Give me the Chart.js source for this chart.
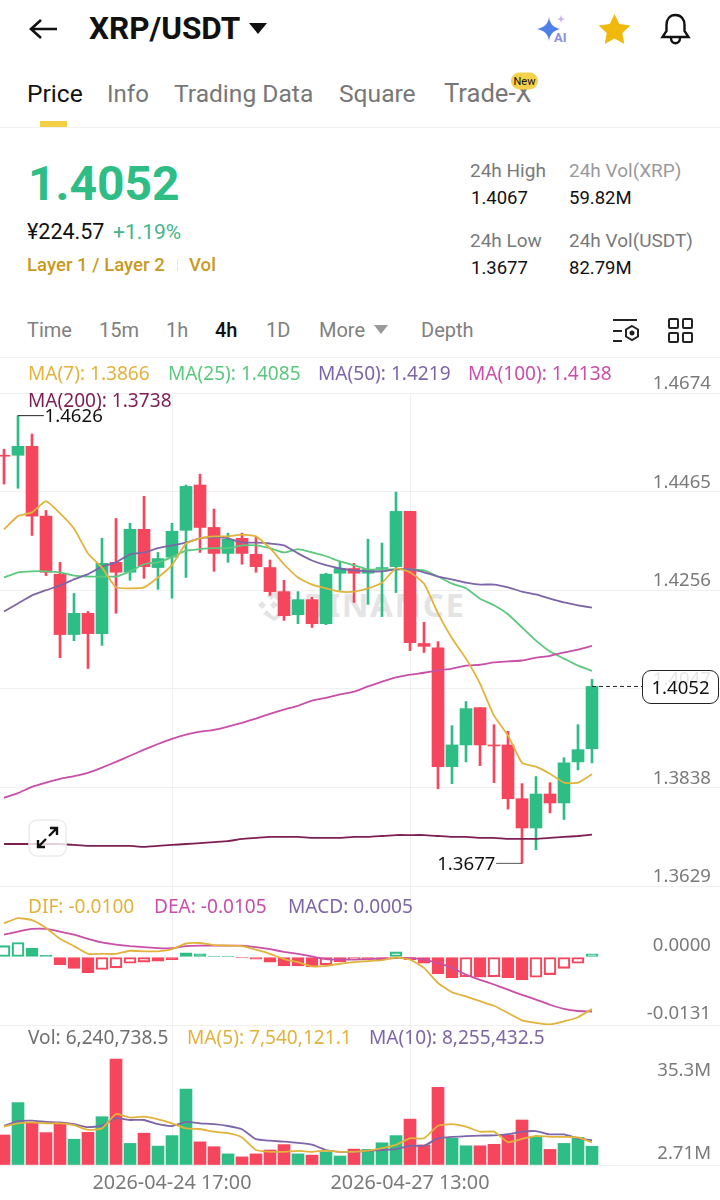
<!DOCTYPE html>
<html>
<head>
<meta charset="utf-8">
<title>XRP/USDT</title>
<script src="https://cdn.jsdelivr.net/npm/chart.js@4"></script>
<style>
  html, body { margin: 0; padding: 0; background: #fff; }
  #page { position: relative; width: 720px; height: 1200px; overflow: hidden; font-family: Roboto, sans-serif; color: #111; }
  .t { position: absolute; transform: translateY(-50%); white-space: nowrap; line-height: 1; }
  .grey { color: #7a7a7a; }
  .pale { color: #9a9a9a; }
  .tab { font-size: 24.6px; color: #777; top: 94px; }
  .stat { font-size: 19px; }
  .num { font-size: 18.5px; }
  .interval { font-size: 20px; top: 330px; color: #808080; }
  .leg { font-family: "Noto Sans", sans-serif; font-size: 19.1px; }
  .rule { position: absolute; left: 0; width: 720px; height: 1px; background: #f1f1f1; }
  canvas { position: absolute; left: 0; }
  svg { position: absolute; }
  #wm { position: absolute; left: 304px; top: 604px; transform: translateY(-50%); font: 700 33px/1 "Noto Sans", sans-serif; letter-spacing: 1.5px; color: #e4e4e4; }
  #tag { position: absolute; left: 642px; top: 670px; width: 75px; height: 32px; border: 1px solid #222; border-radius: 9px; background: rgba(255,255,255,.82); font: 18.6px/32px "Noto Sans", sans-serif; text-align: center; color: #111; }
</style>
</head>
<body>
<div id="page">
  <svg style="left:28px;top:17px" width="32" height="24" viewBox="0 0 32 24" fill="none" stroke="#111" stroke-width="2.6"><path d="M29 12H4M13 3l-10 9 10 9"/></svg>
  <div class="t" style="left:89px;top:29px;font-size:31.5px;font-weight:700">XRP/USDT</div>
  <svg style="left:249px;top:23px" width="18" height="11"><path d="M0 0h18l-9 11z" fill="#111"/></svg>
  <svg style="left:536px;top:14px" width="36" height="30" viewBox="0 0 36 30"><path d="M13 3c1 7 4 10 11 12-7 2-10 5-11 12-1-7-4-10-12-12 8-2 11-5 12-12z" fill="#4f7fe8"/><path d="M25 1l1 3 3 1-3 1-1 3-1-3-3-1 3-1z" fill="#c9b3ec"/><text x="18" y="28" font-family="Roboto" font-weight="700" font-size="13" fill="#8a8fe0">AI</text></svg>
  <svg style="left:598px;top:13px" width="33" height="32" viewBox="0 0 33 32"><path d="M16.5 1l4.8 10 11 1.4-8 7.6 2 11-9.800-5.400L6.700 31l2-11-8-7.600 11-1.400z" fill="#f0b90b"/></svg>
  <svg style="left:659px;top:13px" width="33" height="33" viewBox="0 0 33 33" fill="none" stroke="#111" stroke-width="2.400"><path d="M16.500 2c-6 0-9 4.500-9 10v6l-4 6h26l-4-6v-6c0-5.500-3-10-9-10z"/><path d="M12 25c0 7 9 7 9 0"/></svg>

  <div class="t tab" style="left:27px;color:#111">Price</div>
  <div class="t tab" style="left:107px;font-size:24px">Info</div>
  <div class="t tab" style="left:174px">Trading Data</div>
  <div class="t tab" style="left:339px">Square</div>
  <div class="t tab" style="left:444px;font-size:25.6px">Trade-X</div>
  <div class="t" style="left:511px;top:81px;width:27px;height:17px;border-radius:9px;background:#f5d04a;font-size:11px;line-height:17px;text-align:center">New</div>
  <div style="position:absolute;left:40px;top:121px;width:27px;height:6px;background:#f3cf45"></div>
  <div class="rule" style="top:127px"></div>

  <div class="t" style="left:28px;top:184px;font-size:48px;font-weight:700;color:#2ebd85">1.4052</div>
  <div class="t" style="left:27px;top:232px;font-size:21.5px">¥224.57</div>
  <div class="t" style="left:113px;top:232px;font-size:21px;color:#45b58c">+1.19%</div>
  <div class="t" style="left:27px;top:265px;font-size:18.6px;font-weight:500;color:#c99a1e">Layer 1 / Layer 2</div>
  <div style="position:absolute;left:177px;top:259px;width:1px;height:12px;background:#e5e5e5"></div>
  <div class="t" style="left:189px;top:265px;font-size:18.6px;font-weight:500;color:#c99a1e">Vol</div>

  <div class="t stat grey" style="left:470px;top:170px">24h High</div>
  <div class="t stat pale" style="left:569px;top:170px">24h Vol(XRP)</div>
  <div class="t num" style="left:471px;top:198px">1.4067</div>
  <div class="t num" style="left:569px;top:198px">59.82M</div>
  <div class="t stat grey" style="left:470px;top:240px">24h Low</div>
  <div class="t stat grey" style="left:569px;top:240px">24h Vol(USDT)</div>
  <div class="t num" style="left:471px;top:268px">1.3677</div>
  <div class="t num" style="left:569px;top:268px">82.79M</div>

  <div class="t interval" style="left:27px">Time</div>
  <div class="t interval" style="left:99px">15m</div>
  <div class="t interval" style="left:166px">1h</div>
  <div class="t interval" style="left:215px;color:#111;font-weight:500">4h</div>
  <div class="t interval" style="left:266px">1D</div>
  <div class="t interval" style="left:319px">More</div>
  <svg style="left:374px;top:325px" width="14" height="9"><path d="M0 0h14l-7 9z" fill="#999"/></svg>
  <div class="t interval" style="left:421px">Depth</div>
  <svg style="left:612px;top:318px" width="28" height="26" viewBox="0 0 28 26" fill="none" stroke="#222" stroke-width="2"><path d="M1 2h24M1 13h9M1 23h9"/><path d="M20 8l6 3.500v7L20 22l-6-3.500v-7z"/><circle cx="20" cy="15" r="1.500" fill="#222"/></svg>
  <svg style="left:668px;top:318px" width="25" height="25" fill="none" stroke="#222" stroke-width="2"><rect x="1" y="1" width="9" height="9" rx="1"/><rect x="15" y="1" width="9" height="9" rx="1"/><rect x="1" y="15" width="9" height="9" rx="1"/><rect x="15" y="15" width="9" height="9" rx="1"/></svg>
  <div class="rule" style="top:357px"></div>

  <svg style="left:256px;top:589px" width="36" height="32" viewBox="0 0 36 32" fill="#e4e4e4"><path d="M18 0l7 7-4 4-3-3-3 3-4-4zM6 12l4 4-4 4-4-4zM30 12l4 4-4 4-4-4zM18 12l4 4-4 4-4-4zM11 21l4 4 3 3 3-3 4-4 4 4-11 7-11-7z"/></svg>
  <div id="wm">BINANCE</div>

  <canvas id="price-chart" width="720" height="517" style="top:370px"></canvas>
  <canvas id="macd-chart" width="720" height="141" style="top:885px"></canvas>
  <canvas id="volume-chart" width="720" height="176" style="top:1024px"></canvas>

  <div class="t leg" style="left:28px;top:374px;color:#e2b33c">MA(7): 1.3866</div>
  <div class="t leg" style="left:168px;top:374px;color:#5cc97e">MA(25): 1.4085</div>
  <div class="t leg" style="left:318px;top:374px;color:#7d66a8">MA(50): 1.4219</div>
  <div class="t leg" style="left:468px;top:374px;color:#c94fa8">MA(100): 1.4138</div>
  <div class="t leg" style="left:28px;top:401px;color:#7d1f55">MA(200): 1.3738</div>

  <div class="t leg" style="left:28px;top:907px;color:#e2b33c">DIF: -0.0100</div>
  <div class="t leg" style="left:154px;top:907px;color:#c94fa8">DEA: -0.0105</div>
  <div class="t leg" style="left:288px;top:907px;color:#7d66a8">MACD: 0.0005</div>

  <div class="t leg" style="left:28px;top:1038px;color:#707070">Vol: 6,240,738.5</div>
  <div class="t leg" style="left:187px;top:1038px;color:#e2b33c">MA(5): 7,540,121.1</div>
  <div class="t leg" style="left:369px;top:1038px;color:#7d66a8">MA(10): 8,255,432.5</div>

  <div id="tag">1.4052</div>
  <svg style="left:28px;top:819px" width="39" height="38" viewBox="0 0 39 38" fill="rgba(255,255,255,.8)" stroke="#111" stroke-width="2.400"><rect x="1" y="1" width="37" height="36" rx="8" stroke="#ececec" stroke-width="1.500"/><path d="M10 28l8-8M10 21v7h7M29 9l-8 8M22 9h7v7" fill="none"/></svg>
</div>

<script>
// 4h candles, oldest first. x axis is the candle index.
const times = [
  '2026-04-22 17:00', '2026-04-22 21:00', '2026-04-23 01:00', '2026-04-23 05:00', '2026-04-23 09:00', '2026-04-23 13:00',
  '2026-04-23 17:00', '2026-04-23 21:00', '2026-04-24 01:00', '2026-04-24 05:00', '2026-04-24 09:00', '2026-04-24 13:00',
  '2026-04-24 17:00', '2026-04-24 21:00', '2026-04-25 01:00', '2026-04-25 05:00', '2026-04-25 09:00', '2026-04-25 13:00',
  '2026-04-25 17:00', '2026-04-25 21:00', '2026-04-26 01:00', '2026-04-26 05:00', '2026-04-26 09:00', '2026-04-26 13:00',
  '2026-04-26 17:00', '2026-04-26 21:00', '2026-04-27 01:00', '2026-04-27 05:00', '2026-04-27 09:00', '2026-04-27 13:00',
  '2026-04-27 17:00', '2026-04-27 21:00', '2026-04-28 01:00', '2026-04-28 05:00', '2026-04-28 09:00', '2026-04-28 13:00',
  '2026-04-28 17:00', '2026-04-28 21:00', '2026-04-29 01:00', '2026-04-29 05:00', '2026-04-29 09:00', '2026-04-29 13:00',
  '2026-04-29 17:00',
];
const opens = [
  1.4542, 1.4542, 1.4561, 1.4413, 1.4290, 1.4162, 1.4207, 1.4164, 1.4315, 1.4294, 1.4385,
  1.4304, 1.4326, 1.4383, 1.4479, 1.4389, 1.4334, 1.4366, 1.4332, 1.4304, 1.4253, 1.4204,
  1.4236, 1.4185, 1.4292, 1.4302, 1.4292, 1.4302, 1.4306, 1.4423, 1.4143, 1.4134, 1.3882,
  1.3928, 1.4007, 1.3928, 1.3928, 1.3814, 1.3752, 1.3824, 1.3805, 1.3892, 1.3920,
];
const closes = [
  1.4540, 1.4561, 1.4413, 1.4294, 1.4162, 1.4207, 1.4164, 1.4313, 1.4294, 1.4385, 1.4306,
  1.4323, 1.4381, 1.4476, 1.4389, 1.4334, 1.4364, 1.4334, 1.4306, 1.4253, 1.4202, 1.4236,
  1.4185, 1.4290, 1.4302, 1.4292, 1.4300, 1.4304, 1.4423, 1.4145, 1.4137, 1.3882, 1.3928,
  1.4005, 1.3928, 1.3926, 1.3814, 1.3752, 1.3824, 1.3805, 1.3890, 1.3918, 1.4052,
];
const highs = [
  1.4555, 1.4626, 1.4587, 1.4425, 1.4315, 1.4249, 1.4211, 1.4366, 1.4408, 1.4398, 1.4455,
  1.4336, 1.4398, 1.4479, 1.4502, 1.4428, 1.4377, 1.4377, 1.4368, 1.4320, 1.4277, 1.4253,
  1.4241, 1.4292, 1.4315, 1.4313, 1.4364, 1.4356, 1.4464, 1.4423, 1.4188, 1.4147, 1.3969,
  1.4020, 1.4007, 1.3971, 1.3957, 1.3846, 1.3861, 1.3848, 1.3901, 1.3971, 1.4067,
];
const lows = [
  1.4481, 1.4472, 1.4372, 1.4287, 1.4113, 1.4149, 1.4090, 1.4139, 1.4207, 1.4277, 1.4281,
  1.4258, 1.4239, 1.4283, 1.4336, 1.4296, 1.4315, 1.4311, 1.4294, 1.4245, 1.4192, 1.4185,
  1.4177, 1.4183, 1.4256, 1.4230, 1.4226, 1.4200, 1.4251, 1.4128, 1.4124, 1.3835, 1.3846,
  1.3892, 1.3884, 1.3848, 1.3792, 1.3677, 1.3706, 1.3784, 1.3770, 1.3875, 1.3890,
];
const ma7 = [
  1.4385, 1.4413, 1.4421, 1.4445, 1.4419, 1.4387, 1.4334, 1.4304, 1.4262, 1.4260, 1.4262,
  1.4283, 1.4309, 1.4355, 1.4366, 1.4370, 1.4370, 1.4374, 1.4370, 1.4345, 1.4311, 1.4283,
  1.4268, 1.4260, 1.4253, 1.4253, 1.4260, 1.4272, 1.4302, 1.4294, 1.4270, 1.4207, 1.4154,
  1.4111, 1.4058, 1.3990, 1.3948, 1.3890, 1.3882, 1.3867, 1.3848, 1.3848, 1.3866,
];
const ma25 = [
  1.4283, 1.4294, 1.4296, 1.4296, 1.4294, 1.4287, 1.4285, 1.4285, 1.4285, 1.4296, 1.4311,
  1.4315, 1.4326, 1.4340, 1.4343, 1.4345, 1.4345, 1.4351, 1.4351, 1.4345, 1.4336, 1.4343,
  1.4336, 1.4328, 1.4317, 1.4309, 1.4300, 1.4300, 1.4300, 1.4300, 1.4298, 1.4285, 1.4270,
  1.4260, 1.4238, 1.4224, 1.4205, 1.4177, 1.4149, 1.4126, 1.4111, 1.4096, 1.4085,
];
const ma50 = [
  1.4211, 1.4228, 1.4245, 1.4256, 1.4266, 1.4279, 1.4290, 1.4306, 1.4315, 1.4332, 1.4336,
  1.4345, 1.4351, 1.4357, 1.4366, 1.4368, 1.4366, 1.4357, 1.4357, 1.4355, 1.4351, 1.4334,
  1.4319, 1.4309, 1.4302, 1.4298, 1.4296, 1.4296, 1.4300, 1.4300, 1.4294, 1.4285, 1.4279,
  1.4272, 1.4268, 1.4268, 1.4262, 1.4253, 1.4247, 1.4238, 1.4230, 1.4224, 1.4219,
];
const ma100 = [
  1.3816, 1.3826, 1.3839, 1.3848, 1.3856, 1.3862, 1.3869, 1.3880, 1.3892, 1.3905, 1.3918,
  1.3930, 1.3941, 1.3950, 1.3956, 1.3960, 1.3967, 1.3975, 1.3984, 1.3994, 1.4003, 1.4011,
  1.4022, 1.4028, 1.4035, 1.4041, 1.4052, 1.4062, 1.4071, 1.4077, 1.4081, 1.4086, 1.4090,
  1.4096, 1.4098, 1.4103, 1.4105, 1.4107, 1.4113, 1.4117, 1.4124, 1.4130, 1.4138,
];
const ma200 = [
  1.3718, 1.3718, 1.3718, 1.3718, 1.3718, 1.3716, 1.3714, 1.3714, 1.3714, 1.3714, 1.3712,
  1.3714, 1.3716, 1.3718, 1.3720, 1.3722, 1.3724, 1.3729, 1.3731, 1.3733, 1.3733, 1.3733,
  1.3731, 1.3731, 1.3731, 1.3733, 1.3733, 1.3735, 1.3737, 1.3737, 1.3737, 1.3735, 1.3733,
  1.3733, 1.3731, 1.3731, 1.3729, 1.3729, 1.3729, 1.3731, 1.3733, 1.3735, 1.3738,
];
const priceTicks = [1.4674, 1.4465, 1.4256, 1.4047, 1.3838, 1.3629];

const dif = [
  0.0065, 0.0075, 0.0071, 0.0056, 0.0035, 0.0021, 0.0006, 0.0006, 0.0006, 0.0012, 0.0011,
  0.0011, 0.0015, 0.0026, 0.0027, 0.0023, 0.0022, 0.0021, 0.0014, 0.0006, -0.0004, -0.0010,
  -0.0018, -0.0017, -0.0013, -0.0010, -0.0008, -0.0006, -0.0001, -0.0005, -0.0021, -0.0050, -0.0068,
  -0.0076, -0.0085, -0.0094, -0.0108, -0.0122, -0.0127, -0.0130, -0.0124, -0.0116, -0.0100,
];
const dea = [
  0.0043, 0.0049, 0.0054, 0.0054, 0.0049, 0.0043, 0.0035, 0.0028, 0.0024, 0.0021, 0.0019,
  0.0017, 0.0017, 0.0021, 0.0022, 0.0022, 0.0022, 0.0022, 0.0019, 0.0015, 0.0010, 0.0006,
  0.0001, -0.0004, -0.0005, -0.0005, -0.0004, -0.0003, -0.0002, -0.0002, -0.0005, -0.0012, -0.0021,
  -0.0034, -0.0044, -0.0053, -0.0063, -0.0073, -0.0082, -0.0092, -0.0100, -0.0104, -0.0105,
];
const macd = [
  0.0022, 0.0028, 0.0017, 0.0003, -0.0015, -0.0022, -0.0030, -0.0024, -0.0021, -0.0012, -0.0010,
  -0.0008, -0.0005, 0.0008, 0.0006, 0.0002, 0.0002, -0.0002, -0.0004, -0.0010, -0.0017, -0.0017,
  -0.0019, -0.0015, -0.0009, -0.0005, -0.0004, -0.0005, 0.0010, -0.0005, -0.0012, -0.0032, -0.0040,
  -0.0038, -0.0039, -0.0038, -0.0040, -0.0044, -0.0039, -0.0034, -0.0022, -0.0012, 0.0006,
];
// hollow histogram bars: momentum shrinking towards zero
const macdHollow = [
  1, 1, 0, 0, 0, 0, 0, 1, 1, 1, 1,
  1, 0, 1, 0, 0, 0, 0, 0, 0, 0, 0,
  0, 1, 1, 1, 1, 0, 1, 0, 0, 0, 0,
  1, 0, 1, 0, 0, 1, 1, 1, 1, 1,
];
const macdTicks = [0, -0.0131];

// volume in millions of XRP
const volume = [
  10.0, 20.8, 13.9, 10.8, 13.7, 8.6, 10.9, 16.1, 35.3, 7.2, 10.6,
  6.3, 9.8, 25.3, 7.7, 6.1, 3.7, 2.71, 3.7, 5.0, 6.8, 3.7,
  3.3, 4.4, 3.0, 5.3, 5.2, 7.4, 9.8, 15.3, 6.7, 25.9, 8.9,
  6.4, 6.4, 6.9, 10.0, 15.0, 9.4, 5.2, 7.2, 9.2, 6.24,
];
const volMa5 = [
  12.8, 13.9, 14.2, 13.9, 13.9, 13.3, 11.7, 12.2, 17.0, 15.8, 16.1,
  15.2, 13.9, 12.2, 12.0, 11.1, 10.6, 9.2, 5.0, 4.4, 4.4, 4.7,
  4.4, 4.8, 4.4, 4.4, 4.8, 5.6, 6.7, 8.9, 8.9, 13.1, 13.6,
  12.8, 11.1, 11.1, 7.6, 8.7, 9.7, 9.4, 9.4, 9.2, 7.54,
];
const volMa10 = [
  13.1, 14.6, 14.8, 14.4, 14.2, 13.6, 12.6, 13.1, 15.6, 15.0, 15.0,
  13.6, 13.0, 14.4, 13.9, 13.6, 13.0, 11.9, 8.6, 8.1, 7.8, 7.4,
  6.8, 5.0, 4.4, 4.4, 4.7, 5.0, 5.3, 6.4, 6.4, 8.9, 9.4,
  9.6, 9.8, 9.9, 10.3, 11.1, 11.3, 10.2, 10.2, 8.9, 8.255,
];
const volLabels = ['35.3M', '2.71M'];
const timeTicks = [12, 29];

const UP = '#2ebd85';
const DOWN = '#f6465d';
const GRID = '#f0f0f0';
const YELLOW = '#e2b33c';
const GREEN_LINE = '#5cc97e';
const PURPLE = '#7d66a8';
const MAGENTA = '#c94fa8';
const WINE = '#7d1f55';
const LABEL_FONT = '"Noto Sans", sans-serif';
const LABEL_SIZE = 18.6;

Chart.defaults.animation = false;
Chart.defaults.font.family = LABEL_FONT;

const candleColor = closes.map((c, i) => (c >= opens[i] ? UP : DOWN));

// x scale range so that candle 0 sits 4px in and candles are 14px apart
const xRange = { min: -4 / 14, max: 716 / 14 };

function points(values) {
  return values.map((y, x) => ({ x, y }));
}

function line(values, color, order) {
  return { type: 'line', data: points(values), borderColor: color, borderWidth: 1.8, pointRadius: 0, tension: 0.15, order };
}

function bars(data, color, thickness, order, extra = {}) {
  return { type: 'bar', data, backgroundColor: color, barThickness: thickness, grouped: false, order, ...extra };
}

function xAxis(showLabels) {
  return {
    type: 'linear',
    ...xRange,
    offset: false,
    afterBuildTicks: (scale) => { scale.ticks = timeTicks.map((value) => ({ value })); },
    grid: { color: GRID, drawTicks: false, offset: false },
    border: { display: false },
    ticks: {
      display: showLabels,
      autoSkip: false,
      maxRotation: 0,
      color: '#7a7a7a',
      font: { size: 19.8 },
      padding: 6,
      callback: (value) => times[value],
    },
    afterFit: (scale) => { scale.height = showLabels ? 35 : 0; },
  };
}

function yAxis(min, max, ticks, format, labelOffset, gridColor = GRID) {
  return {
    position: 'right',
    min,
    max,
    afterBuildTicks: (scale) => { scale.ticks = ticks.map((value) => ({ value })); },
    // labels sit inside the plot, so the axis takes no room of its own
    afterFit: (scale) => {
      scale.width = 0;
      scale.paddingTop = 0;
      scale.paddingBottom = 0;
    },
    grid: { color: gridColor, drawTicks: false },
    border: { display: false },
    ticks: { mirror: true, padding: -9, labelOffset, color: '#7a7a7a', font: { size: LABEL_SIZE }, callback: format },
  };
}

// text pinned to data positions: high/low marks and the volume axis labels
const paneText = {
  id: 'paneText',
  afterDatasetsDraw(chart, args, opts) {
    const { ctx, scales } = chart;
    (opts.items || []).forEach((item) => {
      ctx.save();
      ctx.font = `${LABEL_SIZE}px ${LABEL_FONT}`;
      ctx.fillStyle = item.color;
      ctx.textAlign = item.align;
      ctx.textBaseline = 'middle';
      ctx.fillText(item.text, scales.x.getPixelForValue(item.x) + (item.dx || 0), scales.y.getPixelForValue(item.y) + (item.dy || 0));
      ctx.restore();
    });
  },
};

function baseOptions(top, bottom, scales, items = []) {
  return {
    responsive: false,
    layout: { padding: { top, bottom, left: 0, right: 0 } },
    plugins: { legend: { display: false }, tooltip: { enabled: false }, paneText: { items } },
    scales,
  };
}

const lastIndex = closes.length - 1;
const highIndex = highs.indexOf(Math.max(...highs));
const lowIndex = lows.indexOf(Math.min(...lows));

new Chart(document.getElementById('price-chart'), {
  type: 'bar',
  plugins: [paneText],
  data: {
    datasets: [
      line(ma7, YELLOW, 2),
      line(ma25, GREEN_LINE, 3),
      line(ma50, PURPLE, 2),
      line(ma100, MAGENTA, 2),
      line(ma200, WINE, 2),
      {
        type: 'line',
        data: [{ x: highIndex, y: highs[highIndex] }, { x: highIndex + 1.85, y: highs[highIndex] }],
        borderColor: '#222', borderWidth: 1, pointRadius: 0, order: 1,
      },
      {
        type: 'line',
        data: [{ x: lowIndex, y: lows[lowIndex] }, { x: lowIndex - 1.85, y: lows[lowIndex] }],
        borderColor: '#555', borderWidth: 1, pointRadius: 0, order: 1,
      },
      {
        type: 'line',
        data: [{ x: lastIndex, y: closes[lastIndex] }, { x: lastIndex + 3.65, y: closes[lastIndex] }],
        borderColor: '#222', borderWidth: 1, borderDash: [4, 3], pointRadius: 0, order: 1,
      },
      bars(opens.map((o, x) => ({ x, y: [o, closes[x]] })), candleColor, 12, 5),
      bars(lows.map((l, x) => ({ x, y: [l, highs[x]] })), candleColor, 2, 6),
    ],
  },
  options: baseOptions(23, 1, {
    x: xAxis(false),
    y: yAxis(priceTicks[5], priceTicks[0], priceTicks, (value) => value.toFixed(4), -9),
  }, [
    { text: highs[highIndex].toFixed(4), x: highIndex + 1.9, y: highs[highIndex], dy: 1, align: 'left', color: '#111' },
    { text: lows[lowIndex].toFixed(4), x: lowIndex - 1.9, y: lows[lowIndex], dy: 1, align: 'right', color: '#111' },
  ]),
});

const macdColor = macd.map((v) => (v >= 0 ? UP : DOWN));

new Chart(document.getElementById('macd-chart'), {
  type: 'bar',
  data: {
    datasets: [
      line(dea, MAGENTA, 2),
      line(dif, YELLOW, 1),
      bars(macd.map((y, x) => ({ x, y })), macd.map((v, i) => (macdHollow[i] ? 'rgba(255,255,255,0)' : macdColor[i])), 12, 5, {
        borderColor: macdColor,
        borderWidth: 1.5,
        borderSkipped: false,
      }),
    ],
  },
  options: baseOptions(0, 1, {
    x: xAxis(false),
    y: yAxis(-0.0131, 0.01387, macdTicks, (value) => value.toFixed(4), -11, (ctx) => (ctx.tick.value === 0 ? 'rgba(0,0,0,0)' : GRID)),
  }),
});

new Chart(document.getElementById('volume-chart'), {
  type: 'bar',
  plugins: [paneText],
  data: {
    datasets: [
      line(volMa10, PURPLE, 2),
      line(volMa5, YELLOW, 1),
      bars(volume.map((y, x) => ({ x, y })), candleColor, 12, 5),
    ],
  },
  options: baseOptions(1, 0, {
    x: xAxis(true),
    y: { ...yAxis(0, 46.67, [0], () => '', 0), ticks: { display: false } },
  }, [
    { text: volLabels[0], x: xRange.max, y: 35.3, dx: -9, dy: 12, align: 'right', color: '#7a7a7a' },
    { text: volLabels[1], x: xRange.max, y: 2.71, dx: -9, dy: -3, align: 'right', color: '#7a7a7a' },
  ]),
});
</script>
</body>
</html>
